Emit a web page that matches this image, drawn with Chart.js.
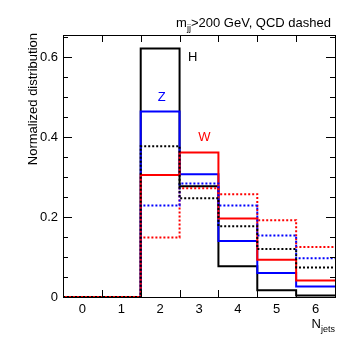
<!DOCTYPE html>
<html>
<head>
<meta charset="utf-8">
<script src="https://cdn.jsdelivr.net/npm/chart.js@4"></script>
<style>
  html, body { margin: 0; padding: 0; background: #fff; }
  #wrap { width: 353px; height: 346px; }
</style>
</head>
<body>
<div id="wrap"><canvas id="c" width="353" height="346"></canvas></div>
<script>
// bins of jet multiplicity
const nJets = [0, 1, 2, 3, 4, 5, 6];
// signal (solid)
const hSig = [0, 0, 0.621, 0.277, 0.077, 0.017, 0.004];
const zSig = [0, 0, 0.464, 0.307, 0.140, 0.060, 0.026];
const wSig = [0, 0, 0.305, 0.361, 0.196, 0.093, 0.041];
// QCD (dashed)
const hQcd = [0, 0, 0.377, 0.247, 0.177, 0.120, 0.074];
const zQcd = [0, 0, 0.229, 0.284, 0.229, 0.154, 0.097];
const wQcd = [0, 0, 0.149, 0.272, 0.257, 0.192, 0.125];
const yTicks = [0, 0.2, 0.4, 0.6];

const FONT = '"Liberation Sans", Arial, Helvetica, sans-serif';
const BLACK = '#000000', BLUE = '#0000ff', RED = '#ff0000';

// histogram outline: two points per bin (low edge, high edge)
function steps(vals) {
    const pts = [];
    vals.forEach((v, i) => {
        pts.push({ x: nJets[i] - 0.5, y: v });
        pts.push({ x: nJets[i] + 0.5, y: v });
    });
    return pts;
}

function ds(label, vals, color, dashed) {
    return {
        label: label,
        data: steps(vals),
        borderColor: color,
        backgroundColor: color,
        borderWidth: 2,
        borderDash: dashed ? [2, 2] : [],
        pointRadius: 0,
        tension: 0,
        fill: false,
        clip: 2
    };
}

// frame, inward ticks and the extra texts (ROOT look)
const rootStyle = {
    id: 'rootStyle',
    afterDraw(chart) {
        const { ctx, chartArea: a, scales: { x, y } } = chart;
        ctx.save();
        ctx.strokeStyle = '#000';
        ctx.lineWidth = 1;
        ctx.beginPath();
        // y ticks, major and minor, left and right
        for (let v = 0; v <= y.max + 1e-9; v += 0.05) {
            const major = Math.abs(v / 0.2 - Math.round(v / 0.2)) < 1e-6;
            const len = major ? 9 : 5;
            const py = Math.round(y.getPixelForValue(v)) + 0.5;
            ctx.moveTo(a.left, py); ctx.lineTo(a.left + len, py);
            ctx.moveTo(a.right, py); ctx.lineTo(a.right - len, py);
        }
        // x ticks at bin edges, bottom and top
        for (let i = 0; i < nJets.length - 1; i++) {
            const px = Math.round(x.getPixelForValue(nJets[i] + 0.5)) + 0.5;
            ctx.moveTo(px, a.bottom); ctx.lineTo(px, a.bottom - 7);
            ctx.moveTo(px, a.top); ctx.lineTo(px, a.top + 7);
        }
        ctx.stroke();
        ctx.strokeRect(Math.round(a.left) + 0.5, Math.round(a.top) + 0.5,
            Math.round(a.right - a.left), Math.round(a.bottom - a.top));

        // curve labels
        ctx.font = '13px ' + FONT;
        ctx.textBaseline = 'middle';
        ctx.textAlign = 'center';
        ctx.fillStyle = BLACK;
        ctx.fillText('H', x.getPixelForValue(2.84), y.getPixelForValue(0.6));
        ctx.fillStyle = BLUE;
        ctx.fillText('Z', x.getPixelForValue(2.04), y.getPixelForValue(0.50));
        ctx.fillStyle = RED;
        ctx.fillText('W', x.getPixelForValue(3.14), y.getPixelForValue(0.40));

        // y axis title, right-aligned at the top of the axis
        ctx.fillStyle = BLACK;
        ctx.save();
        ctx.translate(37, a.top - 2);
        ctx.rotate(-Math.PI / 2);
        ctx.textAlign = 'right';
        ctx.textBaseline = 'alphabetic';
        ctx.font = '13px ' + FONT;
        ctx.fillText('Normalized distribution', 0, 0);
        ctx.restore();

        // top title with subscript
        ctx.textAlign = 'left';
        ctx.textBaseline = 'alphabetic';
        const big = '13px ' + FONT, small = '9px ' + FONT;
        ctx.font = big;
        const w1 = ctx.measureText('m').width;
        const w3 = ctx.measureText('>200 GeV, QCD dashed').width;
        ctx.font = small;
        const w2 = ctx.measureText('jj').width;
        let tx = a.right - 4 - (w1 + w2 + w3);
        const base = 27;
        ctx.font = big; ctx.fillText('m', tx, base); tx += w1;
        ctx.font = small; ctx.fillText('jj', tx, base + 4); tx += w2;
        ctx.font = big; ctx.fillText('>200 GeV, QCD dashed', tx, base);

        // x axis title N_jets
        ctx.font = big;
        const wn = ctx.measureText('N').width;
        ctx.font = small;
        const wj = ctx.measureText('jets').width;
        let nx = a.right - (wn + wj);
        ctx.font = big; ctx.fillText('N', nx, 328);
        ctx.font = small; ctx.fillText('jets', nx + wn, 332);
        ctx.restore();
    }
};

new Chart(document.getElementById('c'), {
    type: 'line',
    data: {
        datasets: [
            ds('H QCD', hQcd, BLACK, true),
            ds('Z QCD', zQcd, BLUE, true),
            ds('W QCD', wQcd, RED, true),
            ds('W', wSig, RED, false),
            ds('Z', zSig, BLUE, false),
            ds('H', hSig, BLACK, false)
        ]
    },
    options: {
        responsive: false,
        animation: false,
        layout: { padding: { top: 35, right: 18, left: 0, bottom: 0 } },
        plugins: { legend: { display: false }, tooltip: { enabled: false } },
        scales: {
            x: {
                type: 'linear',
                min: -0.5,
                max: 6.5,
                grid: { display: false, drawTicks: false },
                border: { display: false },
                afterBuildTicks(s) { s.ticks = nJets.map(v => ({ value: v })); },
                ticks: {
                    padding: 5,
                    color: '#000',
                    font: { family: FONT, size: 13 },
                    maxRotation: 0,
                    autoSkip: false,
                    callback: v => String(v)
                },
                afterFit(s) { s.height = 49; }
            },
            y: {
                min: 0,
                max: 0.655,
                grid: { display: false, drawTicks: false },
                border: { display: false },
                afterBuildTicks(s) { s.ticks = yTicks.map(v => ({ value: v })); },
                ticks: {
                    padding: 5,
                    color: '#000',
                    font: { family: FONT, size: 13 },
                    callback: v => String(Number(v.toFixed(2)))
                },
                afterFit(s) { s.width = 63; }
            }
        }
    },
    plugins: [rootStyle]
});
</script>
</body>
</html>
